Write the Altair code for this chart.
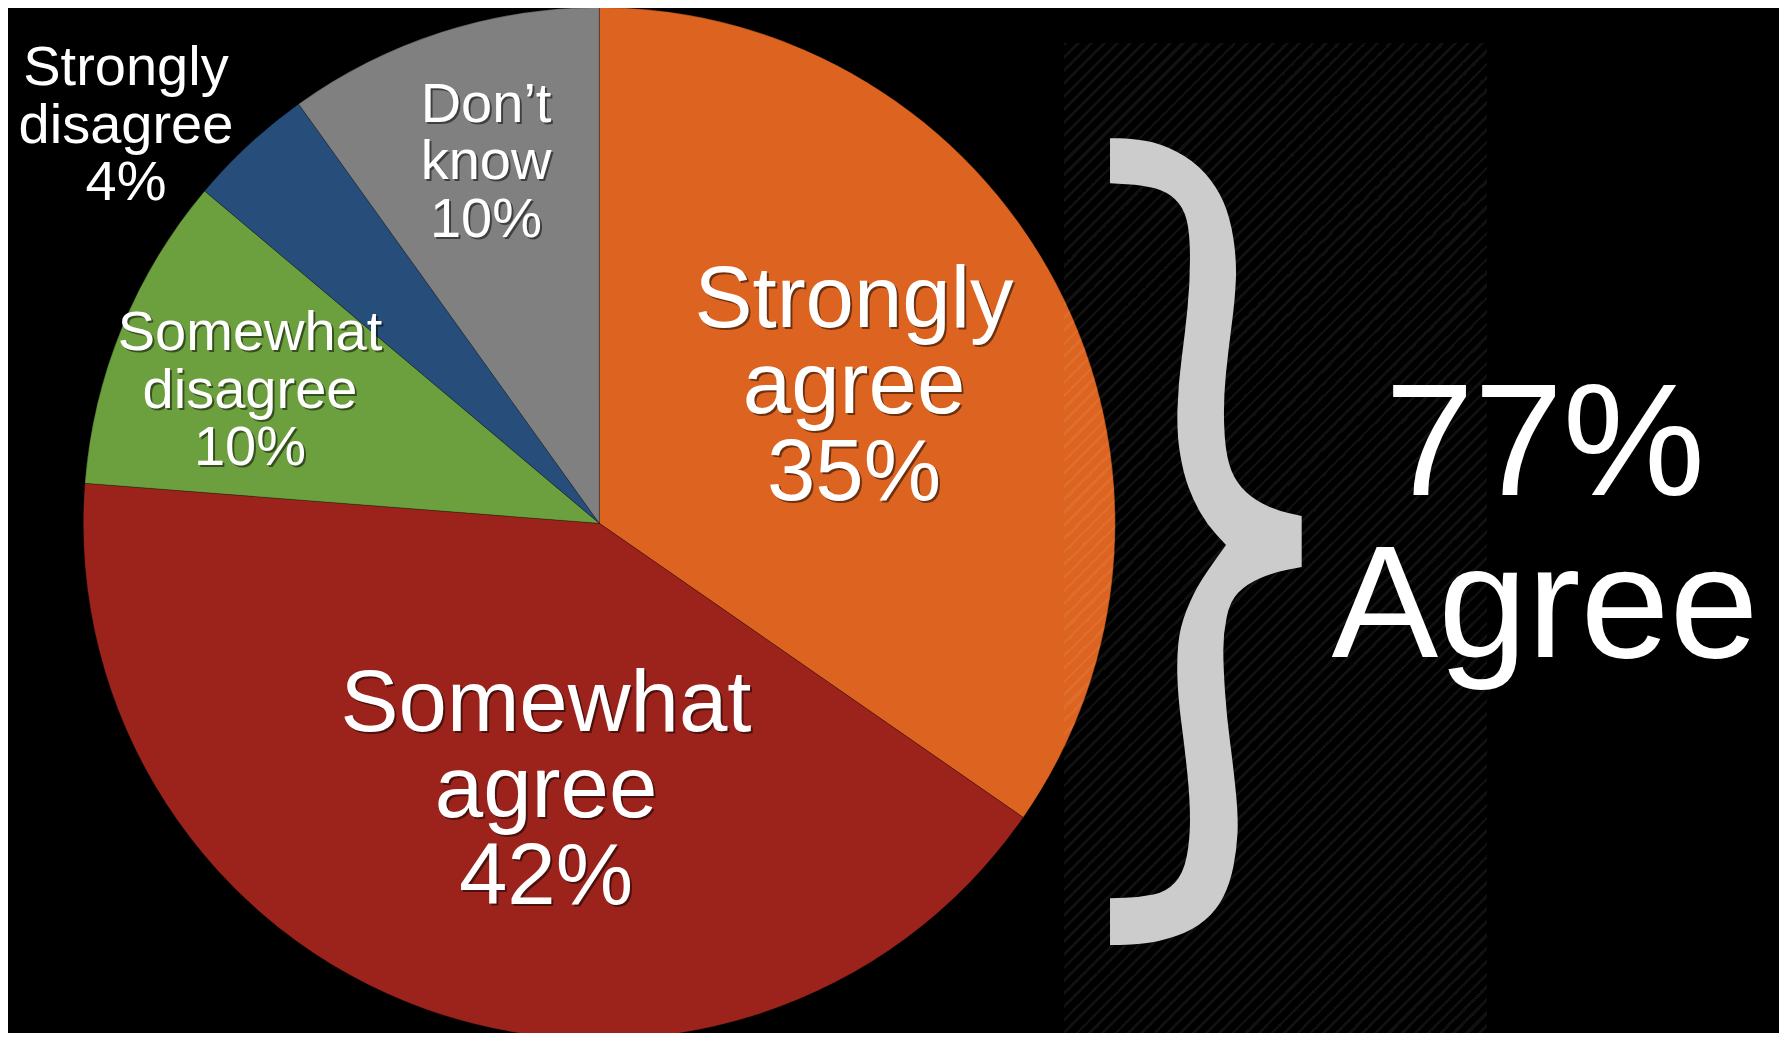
import altair as alt
import pandas as pd

# ---------------- data ----------------
CATEGORIES = ["Strongly agree", "Somewhat agree", "Somewhat disagree", "Strongly disagree", "Don’t know"]
PERCENTS = [35, 42, 10, 4, 10]
COLORS = ["#DD6420", "#9B231C", "#6CA03E", "#274E7B", "#808080"]
SUMMARY_LABEL = "Agree"
AGREE_CATS = ["Strongly agree", "Somewhat agree"]

# ---------------- layout / style ----------------
W, H = 1771, 1025
CX, CY, R = 591.3, 515.3, 516
FONT = "Liberation Sans"
# label distance from pie centre to first text baseline (px), angular nudge (deg), size group
LABEL_LAYOUT = {
    "Strongly agree": (321.8, -10.05, "big"),
    "Somewhat agree": (214.1, -5.19, "big"),
    "Somewhat disagree": (389.9, 4.11, "small"),
    "Strongly disagree": (645.1, -4.43, "small"),
    "Don’t know": (417.3, 2.07, "small"),
}

df = pd.DataFrame({"cat": CATEGORIES, "pct": PERCENTS, "idx": list(range(len(CATEGORIES)))})
df["label"] = [c.replace(" ", "\n") + "\n" + f"{p}%" for c, p in zip(CATEGORIES, PERCENTS)]
df["r"] = [LABEL_LAYOUT[c][0] for c in CATEGORIES]
df["nudge"] = [LABEL_LAYOUT[c][1] for c in CATEGORIES]
df["grp"] = [LABEL_LAYOUT[c][2] for c in CATEGORIES]

agree_total = sum(p for c, p in zip(CATEGORIES, PERCENTS) if c in AGREE_CATS)
summary_df = pd.DataFrame({"t": [f"{agree_total}%\n{SUMMARY_LABEL}"]})

base = alt.Chart(df)

pie = base.mark_arc(radius=R, stroke="#000000", strokeWidth=1, strokeOpacity=0.25).encode(
    theta=alt.Theta("pct:Q", stack=True),
    order=alt.Order("idx:Q"),
    color=alt.Color("cat:N", scale=alt.Scale(domain=CATEGORIES, range=COLORS), legend=None),
    x=alt.value(CX),
    y=alt.value(CY),
)

lab_base = base.transform_joinaggregate(total="sum(pct)").transform_window(
    cum="sum(pct)", sort=[alt.SortField("idx")], frame=[None, 0]
).transform_calculate(
    ang="(datum.cum - datum.pct/2)/datum.total*2*PI + datum.nudge*PI/180",
    lx=f"{CX} + datum.r*sin(datum.ang)",
    ly=f"{CY} - datum.r*cos(datum.ang)",
)

def label_layer(group, fs, lh, shadow):
    kw = dict(font=FONT, fontSize=fs, lineHeight=lh, lineBreak="\n", align="center", baseline="alphabetic")
    if shadow:
        kw.update(color="#000000", opacity=0.5, dx=2, dy=2)
    else:
        kw.update(color="#FFFFFF")
    return lab_base.transform_filter(alt.datum.grp == group).mark_text(**kw).encode(
        x=alt.X("lx:Q", scale=None, axis=None),
        y=alt.Y("ly:Q", scale=None, axis=None),
        text="label:N",
    )

labels = [
    label_layer("big", 87, 86.5, True), label_layer("small", 56, 57.5, True),
    label_layer("big", 87, 86.5, False), label_layer("small", 56, 57.5, False),
]

# ---------------- hatch band ----------------
HX0, HX1, HY0 = 1056, 1479, 35
hw, hh = HX1 - HX0, H - HY0
period, stripe = 13.0, 4.0
span = hw + hh
stops = []
k = 0
while k * period < span:
    a = k * period / span
    b = min((k * period + stripe) / span, 1.0)
    c = min((k + 1) * period / span, 1.0)
    stops += [
        alt.GradientStop(offset=a, color="#ffffff"),
        alt.GradientStop(offset=b, color="#ffffff"),
        alt.GradientStop(offset=b, color="rgba(255,255,255,0)"),
        alt.GradientStop(offset=c, color="rgba(255,255,255,0)"),
    ]
    k += 1
kk = hh * (hw + hh) / (hw ** 2 + hh ** 2)
grad = alt.Gradient(gradient="linear", stops=stops, x1=0, y1=0, x2=kk * hw / hh, y2=kk)
hatch = alt.Chart(pd.DataFrame({"a": [0]})).mark_rect(fill=grad, opacity=0.065).encode(
    x=alt.value(HX0), x2=alt.value(HX1), y=alt.value(HY0), y2=alt.value(H)
)

# ---------------- brace (custom symbol shape) ----------------
BCX, BCY = 1205.85, 541.65  # page coords of brace centre
S = 403.35
segs = [
    [(1110, 138.3), (1130, 138.3), (1160, 143.3), (1193.3, 160), (1216.7, 186.7), (1230, 216.7),
     (1236.7, 260), (1235, 300), (1228.3, 350), (1223.3, 400), (1225, 450), (1233.3, 478),
     (1250, 497), (1275, 510), (1301.7, 516)],
    [(1301.7, 516), (1301.7, 567)],
    [(1301.7, 567), (1273.3, 572.5), (1246.7, 584), (1230, 601), (1223.3, 633.3), (1223.3, 666.7),
     (1226.7, 716.7), (1233.3, 766.7), (1238.3, 816.7), (1236.7, 850), (1230, 883.3),
     (1216.7, 910), (1193.3, 930), (1160, 941.7), (1130, 945), (1110, 945)],
    [(1110, 945), (1110, 898.3)],
    [(1110, 898.3), (1140, 897.3), (1166.7, 891.7), (1183.3, 873.3), (1190, 840), (1190, 800),
     (1185, 750), (1178.3, 700), (1176.7, 660), (1180, 626.7), (1193.3, 593.3), (1206.7, 572),
     (1226, 545)],
    [(1226, 545), (1206.7, 524), (1193.3, 500), (1183.3, 473.3), (1176.7, 433.3), (1178.3, 383.3),
     (1185, 333.3), (1190, 283.3), (1190, 233.3), (1183.3, 206.7), (1166.7, 191.7),
     (1143.3, 185), (1110, 183.3)],
    [(1110, 183.3), (1110, 138.3)],
]

def u(p):
    return f"{(p[0]-BCX)/S:.4f},{(p[1]-BCY)/S:.4f}"

def mid(p, q):
    return ((p[0] + q[0]) / 2, (p[1] + q[1]) / 2)

path = "M" + u(segs[0][0])
for seg in segs:
    if len(seg) == 2:
        path += " L" + u(seg[1])
        continue
    path += " L" + u(mid(seg[0], seg[1]))
    for i in range(1, len(seg) - 1):
        path += " Q" + u(seg[i]) + " " + u(mid(seg[i], seg[i + 1]))
    path += " L" + u(seg[-1])
path += " Z"

brace = alt.Chart(pd.DataFrame({"a": [0]})).mark_point(
    shape=path, filled=True, fill="#CCCCCC", strokeWidth=0, opacity=1, size=(2 * S) ** 2
).encode(x=alt.value(BCX - 8), y=alt.value(BCY - 8))

summary = alt.Chart(summary_df).mark_text(
    font=FONT, fontSize=160, lineHeight=162, lineBreak="\n", align="center", baseline="alphabetic", color="#FFFFFF"
).encode(x=alt.value(1537), y=alt.value(487), text="t:N")

chart = alt.layer(pie, *labels, hatch, brace, summary).properties(
    width=W, height=H, background="#000000", padding=0, autosize=alt.AutoSizeParams(type="none")
).configure_view(stroke=None)

chart.save("out.html", embed_options={"renderer": "svg", "actions": False})
